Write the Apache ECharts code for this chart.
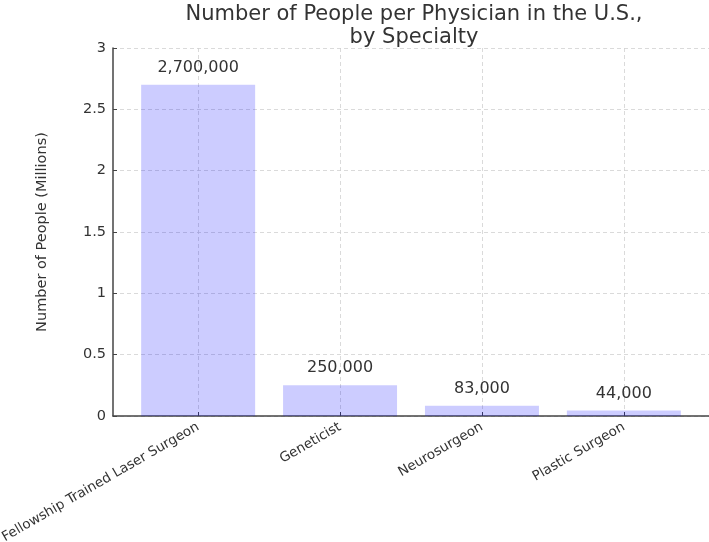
<!DOCTYPE html>
<html>
<head>
<meta charset="utf-8">
<script src="https://cdn.jsdelivr.net/npm/echarts@6/dist/echarts.min.js"></script>
<style>
  html, body { margin: 0; padding: 0; background: #fff; }
  #chart { width: 709px; height: 542px; }
</style>
</head>
<body>
<div id="chart"></div>
<script>
  // specialties and people per physician
  var categories = ['Fellowship Trained Laser Surgeon', 'Geneticist', 'Neurosurgeon', 'Plastic Surgeon'];
  var people = [2700000, 250000, 83000, 44000];
  var yTicks = [0, 0.5, 1, 1.5, 2, 2.5, 3];

  var font = 'DejaVu Sans';
  var positions = categories.map(function (c, i) { return i; });
  var barData = people.map(function (p, i) { return [i, p / 1e6]; });

  var chart = echarts.init(document.getElementById('chart'));
  chart.setOption({
    animation: false,
    textStyle: { fontFamily: font },
    title: {
      text: 'Number of People per Physician in the U.S.,\nby Specialty',
      left: 409,
      top: -2,
      textAlign: 'center',
      textStyle: { fontFamily: font, fontSize: 21, fontWeight: 'normal', color: '#333', lineHeight: 23 }
    },
    grid: { left: 113, right: 0, top: 48, bottom: 126, containLabel: false, outerBoundsMode: 'none' },
    xAxis: {
      type: 'value',
      min: -0.6,
      max: 3.6,
      axisLine: { show: true, lineStyle: { color: '#444', width: 1.5 } },
      axisTick: { show: true, inside: true, length: 4, customValues: positions, lineStyle: { color: '#444' } },
      axisLabel: {
        customValues: positions,
        rotate: 30,
        fontSize: 13.5,
        color: '#333',
        margin: 10,
        formatter: function (v) { return categories[Math.round(v)]; }
      },
      splitLine: { show: true, lineStyle: { type: [4, 3], color: '#d0d0d0', width: 0.8 } }
    },
    yAxis: {
      type: 'value',
      min: 0,
      max: 3,
      interval: 0.5,
      name: 'Number of People (Millions)',
      nameLocation: 'middle',
      nameGap: 63,
      nameTextStyle: { fontSize: 14.5, color: '#333' },
      axisLine: { show: true, onZero: false, lineStyle: { color: '#444', width: 1.5 } },
      axisTick: { show: true, inside: true, length: 4, lineStyle: { color: '#444' } },
      axisLabel: {
        fontSize: 14.5,
        color: '#333',
        margin: 7,
        formatter: function (v) { return yTicks.indexOf(v) >= 0 ? String(v) : ''; }
      },
      splitLine: { show: true, lineStyle: { type: [4, 3], color: '#d0d0d0', width: 0.8 } }
    },
    series: [{
      type: 'bar',
      data: barData,
      barWidth: 114,
      itemStyle: { color: 'rgba(0,0,255,0.2)' },
      label: {
        show: true,
        position: 'top',
        distance: 9,
        fontSize: 16,
        color: '#333',
        formatter: function (p) { return people[p.dataIndex].toLocaleString('en-US'); }
      }
    }]
  });
</script>
</body>
</html>
